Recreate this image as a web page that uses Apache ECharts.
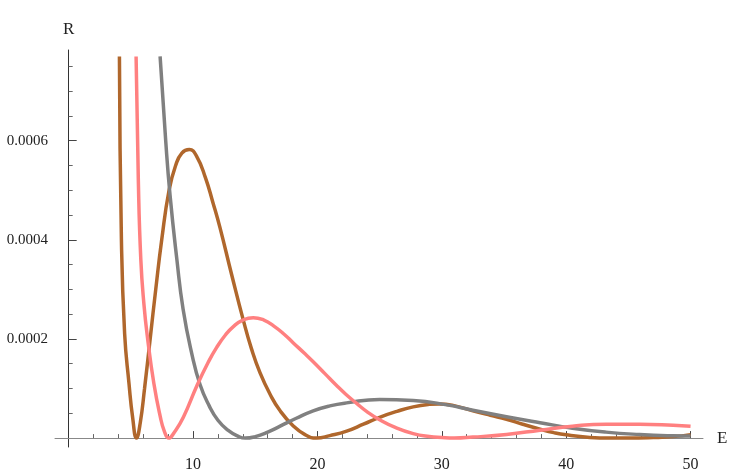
<!DOCTYPE html>
<html>
<head>
<meta charset="utf-8">
<script src="https://cdn.jsdelivr.net/npm/echarts@6/dist/echarts.min.js"></script>
<style>
  html, body { margin: 0; padding: 0; background: #fff; }
  #chart { width: 736px; height: 473px; }
</style>
</head>
<body>
<div id="chart"></div>
<script>
// values (E on x, R on y)
var brownE = [4.08, 4.24, 4.5, 4.85, 5.15, 5.45, 5.75, 6.1, 6.55, 7.0, 7.48, 8.07, 8.6, 9.1, 9.7, 10.3, 11.0, 11.6, 12.17, 13.1, 14.04, 14.7, 15.38, 16.2, 17.0, 18.0, 19.0, 19.93, 21.0, 22.35, 23.7, 25.0, 26.4, 27.7, 29.0, 29.8, 30.9, 32.5, 33.9, 35.2, 36.5, 37.9, 39.0, 40.0, 41.9, 43.5, 45.0, 47.0, 48.6, 50];
var brownR = [0.00077, 0.0004, 0.00021, 0.00011, 0.00004, 0, 0.00003, 0.0001, 0.0002, 0.0003, 0.0004, 0.0005, 0.00055, 0.000575, 0.000582, 0.000568, 0.000525, 0.000475, 0.000424, 0.00033, 0.000238, 0.00018, 0.000132, 0.000088, 0.000055, 0.000026, 0.000007, 0, 0.000005, 0.000014, 0.000028, 0.000042, 0.000054, 0.000063, 0.000068, 0.000069, 0.000066, 0.000055, 0.000046, 0.000038, 0.000028, 0.000018, 0.000011, 0.0000065, 0.0000014, 0, 0, 0.000001, 0.000003, 0.000007];

var pinkE = [5.42, 5.6, 5.8, 6.05, 6.35, 6.85, 7.35, 7.7, 8.05, 8.5, 9.22, 10.3, 11.2, 11.9, 12.6, 13.24, 14.0, 14.84, 15.7, 16.5, 17.3, 18.06, 19.0, 19.66, 20.6, 21.54, 22.3, 23.15, 24.0, 25.0, 26.3, 27.7, 29.0, 30.0, 31.0, 32.5, 35.2, 37.9, 40.5, 43.2, 45.9, 48.6, 50];
var pinkR = [0.00077, 0.00052, 0.00036, 0.00027, 0.0002, 0.00011, 0.000045, 0.000013, 0, 0.000012, 0.000042, 0.000105, 0.000152, 0.000183, 0.000208, 0.000225, 0.000238, 0.000243, 0.000238, 0.000226, 0.00021, 0.000192, 0.00017, 0.000154, 0.00013, 0.000106, 0.000088, 0.00007, 0.000053, 0.000037, 0.000021, 0.000009, 0.000003, 0.000001, 0, 0.000002, 0.0000074, 0.000016, 0.000024, 0.000028, 0.000028, 0.000026, 0.000024];

var grayE = [7.35, 7.8, 8.15, 8.7, 9.2, 9.9, 10.56, 11.3, 12.0, 12.8, 13.6, 14.2, 15.0, 16.0, 17.0, 18.3, 19.66, 21.0, 22.35, 25.0, 27.7, 30.4, 32.5, 35.2, 37.9, 40.5, 43.2, 45.9, 48.6, 50];
var grayR = [0.00077, 0.0006, 0.00049, 0.00036, 0.00026, 0.00017, 0.000108, 0.000065, 0.000036, 0.000016, 0.000004, 0, 0.000003, 0.000012, 0.000024, 0.00004, 0.000055, 0.000065, 0.000071, 0.000078, 0.000076, 0.000067, 0.000056, 0.000043, 0.000031, 0.00002, 0.000012, 0.0000072, 0.0000045, 0.000004];

var xMajor = [10, 20, 30, 40, 50];
var xMinor = [2, 4, 6, 8, 12, 14, 16, 18, 22, 24, 26, 28, 32, 34, 36, 38, 42, 44, 46, 48];
var yMajor = [0.0002, 0.0004, 0.0006];
var yMinor = [0.00005, 0.0001, 0.00015, 0.00025, 0.0003, 0.00035, 0.00045, 0.0005, 0.00055, 0.00065, 0.0007, 0.00075];

function zip(xs, ys) {
  return xs.map(function (x, i) { return [x, ys[i]]; });
}

var serif = 'Liberation Serif';

var chart = echarts.init(document.getElementById('chart'));
chart.setOption({
  animation: false,
  grid: { left: 55, right: 33, top: 50, bottom: 21 },
  xAxis: [
    {
      type: 'value', min: -1.1, max: 51,
      name: 'E', nameLocation: 'end', nameGap: 14,
      nameTextStyle: { fontFamily: serif, fontSize: 17, color: '#222', padding: [4, 0, 0, 0] },
      axisLine: { onZero: true, onZeroAxisIndex: 0, lineStyle: { color: '#888', width: 1 } },
      axisTick: { inside: true, length: 7, customValues: xMajor, lineStyle: { color: '#444' } },
      axisLabel: { customValues: xMajor, margin: 10, fontFamily: serif, fontSize: 16, color: '#222' },
      splitLine: { show: false }
    },
    {
      type: 'value', min: -1.1, max: 51, position: 'bottom',
      axisLine: { show: false, onZero: true, onZeroAxisIndex: 0 },
      axisTick: { inside: true, length: 4, customValues: xMinor, lineStyle: { color: '#666' } },
      axisLabel: { show: false },
      splitLine: { show: false }
    }
  ],
  yAxis: [
    {
      type: 'value', min: -0.000018, max: 0.000783,
      name: 'R', nameLocation: 'end', nameGap: 12,
      nameTextStyle: { fontFamily: serif, fontSize: 17, color: '#222', align: 'center' },
      axisLine: { onZero: true, onZeroAxisIndex: 0, lineStyle: { color: '#333', width: 1 } },
      axisTick: { inside: true, length: 8, customValues: yMajor, lineStyle: { color: '#444' } },
      axisLabel: { customValues: yMajor, margin: 7, fontFamily: serif, fontSize: 15, color: '#222',
        formatter: function (v) { return v.toFixed(4); } },
      splitLine: { show: false }
    },
    {
      type: 'value', min: -0.000018, max: 0.000783, position: 'left',
      axisLine: { show: false, onZero: true, onZeroAxisIndex: 0 },
      axisTick: { inside: true, length: 4, customValues: yMinor, lineStyle: { color: '#666' } },
      axisLabel: { show: false },
      splitLine: { show: false }
    }
  ],
  series: [
    { type: 'line', data: zip(brownE, brownR), showSymbol: false, smooth: 0.5, clip: true,
      lineStyle: { color: '#b0672c', width: 3.5 } },
    { type: 'line', data: zip(grayE, grayR), showSymbol: false, smooth: 0.5, clip: true,
      lineStyle: { color: '#808080', width: 3.5 } },
    { type: 'line', data: zip(pinkE, pinkR), showSymbol: false, smooth: 0.5, clip: true,
      lineStyle: { color: '#ff8080', width: 3.5 } }
  ]
});
</script>
</body>
</html>
